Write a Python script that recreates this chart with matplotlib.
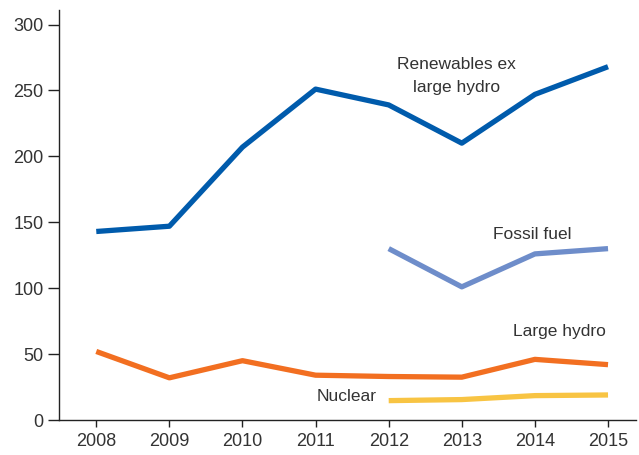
import matplotlib.pyplot as plt

years = [2008, 2009, 2010, 2011, 2012, 2013, 2014, 2015]
renewables = [143, 147, 207, 251, 239, 210, 247, 268]
large_hydro = [52, 32, 45, 34, 33, 32.5, 46, 42]
fossil_years = [2012, 2013, 2014, 2015]
fossil = [130, 101, 126, 130]
nuclear_years = [2012, 2013, 2014, 2015]
nuclear = [14.7, 15.5, 18.5, 19]

plt.rcParams['font.family'] = ['Liberation Sans', 'DejaVu Sans']
txt = '#333333'

fig = plt.figure(figsize=(6.39, 4.55), dpi=100)
ax = fig.add_axes([0.0923, 0.0769, 0.9027, 0.9011])

ax.plot(years, renewables, color='#005BAC', lw=3.8, solid_capstyle='butt')
ax.plot(fossil_years, fossil, color='#6E8DCA', lw=3.8, solid_capstyle='butt')
ax.plot(years, large_hydro, color='#F26F21', lw=3.8, solid_capstyle='butt')
ax.plot(nuclear_years, nuclear, color='#F8C443', lw=3.8, solid_capstyle='butt')

ax.text(2012.93, 261, 'Renewables ex\nlarge hydro', ha='center', va='center',
        fontsize=12.5, color=txt, linespacing=1.6)
ax.text(2013.96, 141, 'Fossil fuel', ha='center', va='center', fontsize=12.5, color=txt)
ax.text(2014.33, 67, 'Large hydro', ha='center', va='center', fontsize=12.5, color=txt)
ax.text(2011.43, 17.5, 'Nuclear', ha='center', va='center', fontsize=12.5, color=txt)

ax.set_xlim(2007.49, 2015.38)
ax.set_ylim(0, 311)
ax.set_xticks(years)
ax.set_yticks([0, 50, 100, 150, 200, 250, 300])
ax.tick_params(axis='both', direction='out', colors='#222222', labelcolor=txt,
               labelsize=13, width=1)
ax.tick_params(axis='y', length=8, pad=3)
ax.tick_params(axis='x', length=5, pad=4)
for s in ['top', 'right']:
    ax.spines[s].set_visible(False)
for s in ['left', 'bottom']:
    ax.spines[s].set_color('#222222')
    ax.spines[s].set_linewidth(1)

fig.savefig('out.png', dpi=100)
